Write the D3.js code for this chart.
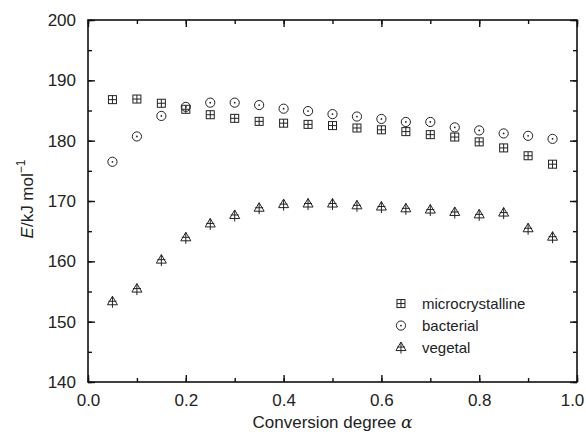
<!DOCTYPE html>
<html lang="en">
<head>
<meta charset="utf-8">
<title>Activation energy vs conversion</title>
<script src="https://cdn.jsdelivr.net/npm/d3@7"></script>
<style>
  body { margin: 0; background: #fff; }
  svg text { font-family: "Liberation Sans", Arial, sans-serif; fill: #222; }
</style>
</head>
<body>
<svg id="chart"></svg>
<script>
// conversion degrees and activation energies
var alpha = [0.05, 0.10, 0.15, 0.20, 0.25, 0.30, 0.35, 0.40, 0.45, 0.50,
             0.55, 0.60, 0.65, 0.70, 0.75, 0.80, 0.85, 0.90, 0.95];
var microcrystalline = [186.8, 186.9, 186.2, 185.2, 184.3, 183.7, 183.2, 182.9, 182.7, 182.5,
                        182.1, 181.8, 181.5, 181.0, 180.6, 179.8, 178.8, 177.5, 176.1];
var bacterial = [176.5, 180.7, 184.1, 185.6, 186.3, 186.3, 185.9, 185.3, 184.9, 184.4,
                 184.0, 183.6, 183.1, 183.1, 182.2, 181.7, 181.2, 180.8, 180.3];
var vegetal = [153.3, 155.4, 160.2, 163.9, 166.2, 167.6, 168.8, 169.4, 169.5, 169.5,
               169.2, 169.0, 168.7, 168.5, 168.1, 167.7, 168.0, 165.4, 164.0];
var seriesNames = ["microcrystalline", "bacterial", "vegetal"];
var xTicks = [0, 0.2, 0.4, 0.6, 0.8, 1.0];
var yTicks = [140, 150, 160, 170, 180, 190, 200];

var svgWidth = 586, svgHeight = 442;
var margin = {top: 20, right: 9, bottom: 60, left: 88};
var width = svgWidth - margin.left - margin.right;
var height = svgHeight - margin.top - margin.bottom;

var svg = d3.select("#chart")
    .attr("width", svgWidth)
    .attr("height", svgHeight)
  .append("g")
    .attr("transform", "translate(" + margin.left + "," + margin.top + ")");

var x = d3.scaleLinear().domain([0, 1]).range([0, width]);
var y = d3.scaleLinear().domain([140, 200]).range([height, 0]);

// frame
svg.append("rect")
    .attr("width", width).attr("height", height)
    .attr("fill", "none").attr("stroke", "#111").attr("stroke-width", 1.6);

// ticks pointing inward on all four sides
function drawTicks(axis, tr) {
  var g = svg.append("g").attr("transform", tr).call(axis);
  g.select(".domain").remove();
  g.selectAll("line").attr("stroke", "#111").attr("stroke-width", 1.4);
  return g;
}
var xMinor = d3.range(0, 1.0001, 0.1);
var yMinor = d3.range(140, 200.001, 5);

var xb = drawTicks(d3.axisBottom(x).tickValues(xTicks).tickSize(-7).tickPadding(12)
    .tickFormat(d3.format(".1f")), "translate(0," + height + ")");
drawTicks(d3.axisBottom(x).tickValues(xMinor).tickSize(-4).tickFormat(""), "translate(0," + height + ")");
drawTicks(d3.axisTop(x).tickValues(xTicks).tickSize(-7).tickFormat(""), "translate(0,0)");
drawTicks(d3.axisTop(x).tickValues(xMinor).tickSize(-4).tickFormat(""), "translate(0,0)");
var yl = drawTicks(d3.axisLeft(y).tickValues(yTicks).tickSize(-7).tickPadding(12), "translate(0,0)");
drawTicks(d3.axisLeft(y).tickValues(yMinor).tickSize(-4).tickFormat(""), "translate(0,0)");
drawTicks(d3.axisRight(y).tickValues(yTicks).tickSize(-7).tickFormat(""), "translate(" + width + ",0)");
drawTicks(d3.axisRight(y).tickValues(yMinor).tickSize(-4).tickFormat(""), "translate(" + width + ",0)");
xb.selectAll("text").style("font-size", "17px").attr("fill", "#222")
    .attr("dx", function(d) { return d === 1 ? -5 : 0; });
yl.selectAll("text").style("font-size", "17px").attr("fill", "#222");

// marker shapes
function drawMarker(g, kind, cx, cy) {
  var s = 4;
  if (kind === "microcrystalline") {
    g.append("rect").attr("x", cx - s).attr("y", cy - s).attr("width", 2 * s).attr("height", 2 * s).attr("fill", "none").attr("stroke", "#222");
    g.append("path").attr("d", "M" + (cx - s) + "," + cy + "H" + (cx + s) + "M" + cx + "," + (cy - s) + "V" + (cy + s)).attr("stroke", "#222");
  } else if (kind === "bacterial") {
    g.append("circle").attr("cx", cx).attr("cy", cy).attr("r", 4.6).attr("fill", "none").attr("stroke", "#222");
    g.append("circle").attr("cx", cx).attr("cy", cy).attr("r", 0.9).attr("fill", "#222");
  } else {
    g.append("path").attr("d", "M" + cx + "," + (cy - 5.5) + "L" + (cx + 5) + "," + (cy + 3) + "L" + (cx - 5) + "," + (cy + 3) + "Z").attr("fill", "none").attr("stroke", "#222");
    g.append("path").attr("d", "M" + cx + "," + (cy - 5.5) + "V" + (cy + 6) + "M" + (cx - 4) + "," + (cy - 0.5) + "H" + (cx + 4)).attr("stroke", "#222");
  }
}

var seriesData = {microcrystalline: microcrystalline, bacterial: bacterial, vegetal: vegetal};
seriesNames.forEach(function(name) {
  var g = svg.append("g").attr("class", "series " + name);
  seriesData[name].forEach(function(v, i) {
    drawMarker(g, name, x(alpha[i]), y(v));
  });
});

// legend
var legend = svg.append("g").attr("transform", "translate(" + (x(0.64)) + "," + (y(153)) + ")");
seriesNames.forEach(function(name, i) {
  var row = legend.append("g");
  drawMarker(row, name, 0, i * 22);
  row.append("text").attr("x", 21).attr("y", i * 22).attr("dy", "0.35em")
      .style("font-size", "15px").text(name);
});

// axis titles
svg.append("text")
    .attr("x", width / 2).attr("y", height + 46)
    .attr("text-anchor", "middle").style("font-size", "17px")
    .html('Conversion degree <tspan font-family="DejaVu Serif" font-style="italic">α</tspan>');

svg.append("text")
    .attr("transform", "translate(" + (-55) + "," + (height / 2 - 2) + ") rotate(-90)")
    .attr("text-anchor", "middle").style("font-size", "17px")
    .html('<tspan font-style="italic">E</tspan>/kJ mol<tspan dy="-8" font-size="12px">−1</tspan>');
</script>
</body>
</html>
